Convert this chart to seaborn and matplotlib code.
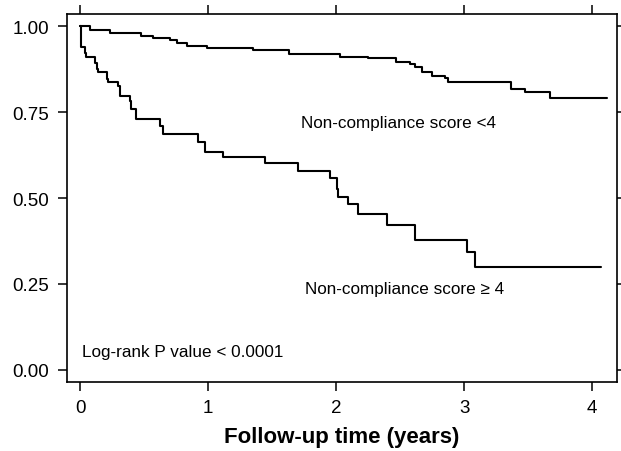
import matplotlib
matplotlib.use('Agg')
import matplotlib.pyplot as plt
import pandas as pd
import seaborn as sns

# Kaplan-Meier step points (time in years, survival)
low_time = [0.0, 0.008, 0.04, 0.05, 0.117, 0.13, 0.143, 0.208, 0.22, 0.30, 0.31,
            0.39, 0.40, 0.44, 0.625, 0.65, 0.92, 0.977, 1.12, 1.445, 1.705, 1.95,
            2.005, 2.018, 2.096, 2.17, 2.396, 2.617, 3.02, 3.086, 4.07]
low_surv = [1.0, 0.938, 0.923, 0.909, 0.894, 0.875, 0.865, 0.846, 0.836, 0.827, 0.797,
            0.783, 0.759, 0.731, 0.71, 0.686, 0.662, 0.633, 0.618, 0.602, 0.579, 0.557,
            0.526, 0.502, 0.483, 0.453, 0.421, 0.378, 0.342, 0.298, 0.298]

high_time = [0.0, 0.078, 0.234, 0.48, 0.57, 0.70, 0.755, 0.833, 0.99, 1.354, 1.63,
             2.03, 2.25, 2.47, 2.58, 2.617, 2.67, 2.75, 2.85, 2.877, 3.37, 3.477,
             3.67, 4.115]
high_surv = [1.0, 0.99, 0.98, 0.972, 0.965, 0.96, 0.952, 0.943, 0.935, 0.929, 0.919,
             0.911, 0.906, 0.896, 0.89, 0.88, 0.865, 0.856, 0.848, 0.838, 0.817, 0.807,
             0.79, 0.79]

x_ticks = [0, 1, 2, 3, 4]
y_ticks = [0.00, 0.25, 0.50, 0.75, 1.00]

df = pd.concat([
    pd.DataFrame({'time': high_time, 'surv': high_surv, 'group': 'lt4'}),
    pd.DataFrame({'time': low_time, 'surv': low_surv, 'group': 'ge4'}),
])

sns.set_theme(style='ticks')
plt.rcParams['font.family'] = ['Liberation Sans', 'DejaVu Sans']
plt.rcParams['text.color'] = 'black'

fig = plt.figure(figsize=(6.21, 4.52), dpi=100)
ax = fig.add_axes([0.1074, 0.1527, 0.8862, 0.8148])

sns.lineplot(data=df, x='time', y='surv', hue='group', estimator=None, sort=False,
             drawstyle='steps-post', palette={'lt4': 'black', 'ge4': 'black'},
             linewidth=1.5, legend=False, ax=ax)

ax.set_xlim(-0.104, 4.195)
ax.set_ylim(-0.035, 1.036)
ax.set_xticks(x_ticks)
ax.set_xticklabels([str(t) for t in x_ticks])
ax.set_yticks(y_ticks)
ax.set_yticklabels([f'{v:.2f}' for v in y_ticks])
ax.tick_params(direction='out', length=6.5, width=1.1, top=True, right=True,
               labeltop=False, labelright=False, labelsize=13.5, colors='black', pad=6)
for s in ax.spines.values():
    s.set_linewidth(1.2)
    s.set_color('black')

ax.set_xlabel('Follow-up time (years)', fontsize=16, fontweight='bold', labelpad=7,
              color='black')
ax.set_ylabel('')

ax.text(1.73, 0.721, 'Non-compliance score <4', fontsize=12.3, va='center', ha='left')
ax.text(1.76, 0.238, 'Non-compliance score \u2265 4', fontsize=12.3, va='center', ha='left')
ax.text(0.016, 0.055, 'Log-rank P value < 0.0001', fontsize=12.3, va='center', ha='left')

fig.savefig('out.png', dpi=100)
